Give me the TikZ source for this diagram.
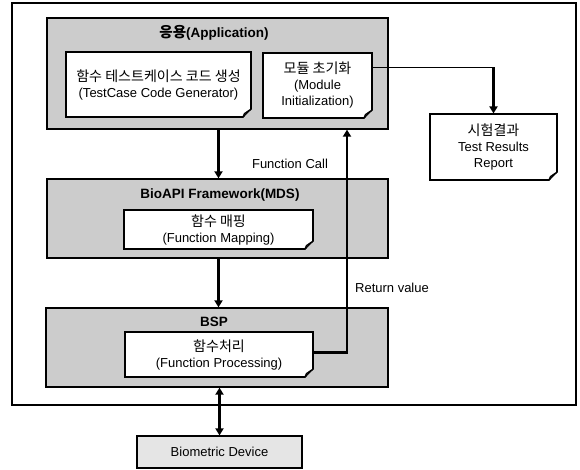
\documentclass[tikz,border=0pt]{standalone}
\usepackage{fontspec}
\setmainfont{Liberation Sans}
\newfontfamily\kr[Scale=1.08]{Noto Sans CJK KR}
\usetikzlibrary{arrows.meta,calc}
\definecolor{layergray}{gray}{0.8}
\definecolor{devgray}{gray}{0.9}
\definecolor{foldgray}{gray}{0.45}
\newcommand\dogear[3]{%
  \fill[#3] ($(#1.south east)+(1,1)$) -- ($(#1.south east)+(-#2,1)$) -- ($(#1.south east)+(1,-#2)$) -- cycle;
  \filldraw[fill=foldgray,draw=black,line width=1pt,line join=round]
    ($(#1.south east)+(0,-#2)$) -- ($(#1.south east)+(-0.8*#2,-0.45*#2)$) -- ($(#1.south east)+(-#2,0)$) -- cycle;
}
\begin{document}
\begin{tikzpicture}[x=1pt,y=-1pt,
  frame/.style={draw=black,line width=1.2pt,inner sep=0pt},
  layer/.style={draw=black,line width=1.3pt,fill=layergray,inner sep=0pt},
  note/.style={draw=black,line width=1.1pt,fill=white,align=center,inner sep=0pt,font=\fontsize{13}{16}\selectfont},
  devbox/.style={draw=black,line width=1.2pt,fill=devgray,inner sep=0pt,font=\fontsize{13}{16}\selectfont},
  title/.style={font=\bfseries\fontsize{13.5}{16}\selectfont,inner sep=0pt},
  lbl/.style={font=\fontsize{13}{15}\selectfont,inner sep=0pt},
  flow/.style={line width=2.8pt,-{Triangle[length=7pt,width=8pt]}},
  flowboth/.style={line width=2.8pt,{Triangle[length=7pt,width=8pt]}-{Triangle[length=7pt,width=8pt]}},
  thinline/.style={line width=1pt}]
\useasboundingbox (0,0) rectangle (580,470);
\fill[white] (0,0) rectangle (580,470);

\node[frame, minimum width=564pt, minimum height=402pt] (outer) at (294,204) {};

% Application layer
\node[layer, minimum width=341pt, minimum height=111pt] (app) at (217.5,73.5) {};
\node[title] (appt) at (214,33) {{\kr 응용}(Application)};
\node[note, minimum width=185pt, minimum height=65pt] (tc) at (158.5,84.5)
  {{\kr 함수 테스트케이스 코드 생성}\\(TestCase Code Generator)};
\dogear{tc}{9}{layergray}
\node[note, minimum width=109pt, minimum height=65pt] (mod) at (317.5,85.5)
  {{\kr 모듈 초기화}\\(Module\\Initialization)};
\dogear{mod}{9}{layergray}

% Results
\node[note, minimum width=127pt, minimum height=66pt] (res) at (493.5,147)
  {{\kr 시험결과}\\Test Results\\Report};
\dogear{res}{9}{white}

% BioAPI framework
\node[layer, minimum width=341pt, minimum height=79pt] (bio) at (217.5,218.5) {};
\node[title] (biot) at (220,195) {BioAPI Framework(MDS)};
\node[note, minimum width=189pt, minimum height=39pt] (fm) at (218.5,229.5)
  {{\kr 함수 매핑}\\(Function Mapping)};
\dogear{fm}{9}{layergray}

% BSP
\node[layer, minimum width=342pt, minimum height=79pt] (bsp) at (217,347.5) {};
\node[title] (bspt) at (214,322) {BSP};
\node[note, minimum width=188pt, minimum height=45pt] (fp) at (219,354.5)
  {{\kr 함수처리}\\(Function Processing)};
\dogear{fp}{9}{layergray}

% Device
\node[devbox, minimum width=165pt, minimum height=32pt] (dev) at (219.5,452) {Biometric Device};

% Connectors
\draw[flow] (fm.north |- app.south) -- (fm.north |- bio.north);
\node[lbl] (fc) at (290,164) {Function Call};
\draw[flow] (fm.south |- bio.south) -- (fm.south |- bsp.north);
\draw[flowboth] (dev.north |- bsp.south) -- (dev.north);
\coordinate (ret) at ($(app.south)+(129.5,0)$);
\draw[flow] ($(fp.east)+(0,-2)$) -| (ret);
\node[lbl] (rv) at (392,288) {Return value};
\coordinate (tap) at ($(mod.north east)+(0,15)$);
\draw[thinline] (tap) -- (tap -| res.north);
\draw[flow] (tap -| res.north) -- (res.north);
\end{tikzpicture}
\end{document}
